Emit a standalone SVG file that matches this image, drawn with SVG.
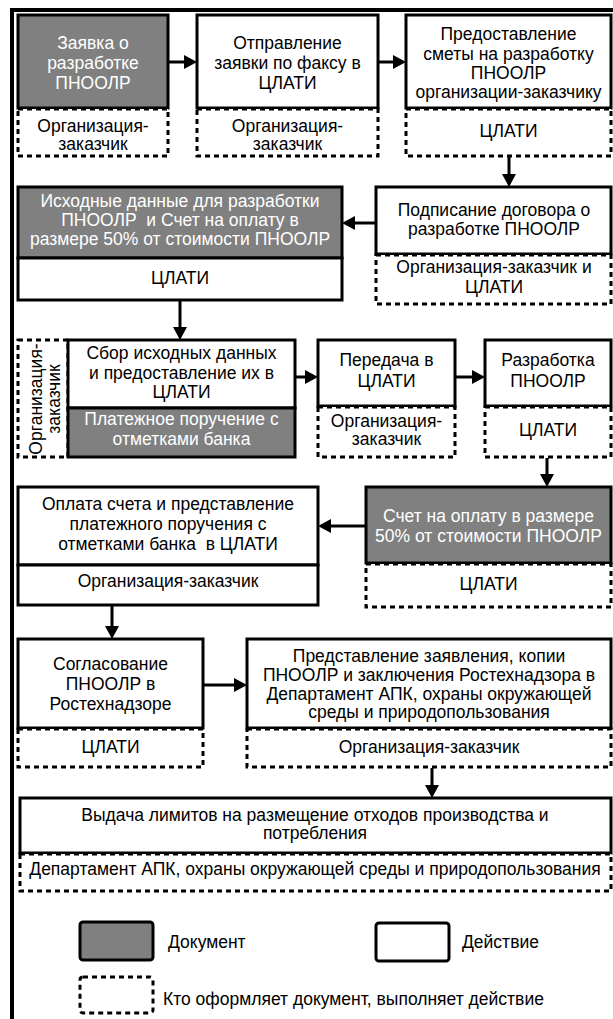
<svg xmlns="http://www.w3.org/2000/svg" width="613" height="1019" viewBox="0 0 613 1019">
<defs>
<style>
.box{fill:#fff;stroke:#000;stroke-width:3}
.doc{fill:#808080;stroke:#000;stroke-width:3}
.who{fill:#fff;stroke:#000;stroke-width:3;stroke-dasharray:5 4}
text{font-family:"Liberation Sans",Arial,sans-serif;font-size:17.5px;fill:#000}
.c{text-anchor:middle}
.w{fill:#fff}
#conn line{stroke:#000;stroke-width:3;marker-end:url(#ah)}
</style>
<marker id="ah" markerUnits="userSpaceOnUse" markerWidth="14" markerHeight="14" refX="1" refY="7" orient="auto">
<path d="M0,0 L13,7 L0,14 z" fill="#000"/>
</marker>
</defs>
<rect width="613" height="1019" fill="#fff"/>
<rect x="12" y="10" width="700" height="1100" fill="none" stroke="#000" stroke-width="4"/>

<g id="n1">
<rect class="doc" x="18" y="15" width="150" height="93"/>
<rect class="who" x="18" y="109" width="150" height="47"/>
<text class="c w"><tspan x="93" y="49">Заявка о</tspan><tspan x="93" y="69">разработке</tspan><tspan x="93" y="89">ПНООЛР</tspan></text>
<text class="c"><tspan x="93" y="132">Организация-</tspan><tspan x="93" y="150">заказчик</tspan></text>
</g>
<g id="n2">
<rect class="box" x="197" y="15" width="181" height="93"/>
<rect class="who" x="197" y="109" width="181" height="47"/>
<text class="c"><tspan x="287.5" y="49">Отправление</tspan><tspan x="287.5" y="69">заявки по факсу в</tspan><tspan x="287.5" y="89">ЦЛАТИ</tspan></text>
<text class="c"><tspan x="287.5" y="132">Организация-</tspan><tspan x="287.5" y="150">заказчик</tspan></text>
</g>
<g id="n3">
<rect class="box" x="406" y="15" width="205" height="93"/>
<rect class="who" x="406" y="109" width="205" height="47"/>
<text class="c"><tspan x="508.5" y="40">Предоставление</tspan><tspan x="508.5" y="59.5">сметы на разработку</tspan><tspan x="508.5" y="79">ПНООЛР</tspan><tspan x="508.5" y="98">организации-заказчику</tspan></text>
<text class="c" x="508.5" y="137">ЦЛАТИ</text>
</g>
<g id="n4">
<rect class="box" x="376" y="187" width="235" height="67"/>
<rect class="who" x="376" y="255" width="235" height="49"/>
<text class="c"><tspan x="494" y="216">Подписание договора о</tspan><tspan x="494" y="235">разработке ПНООЛР</tspan></text>
<text class="c"><tspan x="494" y="273">Организация-заказчик и</tspan><tspan x="494" y="293">ЦЛАТИ</tspan></text>
</g>
<g id="n5">
<rect class="doc" x="18" y="187" width="324" height="71"/>
<rect class="box" x="18" y="258" width="324" height="42"/>
<text class="c w"><tspan x="180" y="207">Исходные данные для разработки</tspan><tspan x="180" y="226">ПНООЛР &#160;и Счет на оплату в</tspan><tspan x="180" y="245">размере 50% от стоимости ПНООЛР</tspan></text>
<text class="c" x="180" y="284">ЦЛАТИ</text>
</g>
<g id="n6">
<rect class="who" x="18" y="340" width="50" height="117"/>
<rect class="box" x="68" y="340" width="227" height="68"/>
<rect class="doc" x="68" y="408" width="227" height="49"/>
<text class="c" transform="translate(43,399) rotate(-90)"><tspan x="0" y="-1">Организация-</tspan><tspan x="0" y="17">заказчик</tspan></text>
<text class="c"><tspan x="181.5" y="359">Сбор исходных данных</tspan><tspan x="181.5" y="379">и предоставление их в</tspan><tspan x="181.5" y="398">ЦЛАТИ</tspan></text>
<text class="c w"><tspan x="181.5" y="425">Платежное поручение с</tspan><tspan x="181.5" y="445">отметками банка</tspan></text>
</g>
<g id="n7">
<rect class="box" x="318" y="340" width="137" height="66"/>
<rect class="who" x="318" y="407" width="137" height="50"/>
<text class="c"><tspan x="386.5" y="366">Передача в</tspan><tspan x="386.5" y="387">ЦЛАТИ</tspan></text>
<text class="c"><tspan x="386.5" y="427">Организация-</tspan><tspan x="386.5" y="445">заказчик</tspan></text>
</g>
<g id="n8">
<rect class="box" x="485" y="340" width="126" height="66"/>
<rect class="who" x="485" y="407" width="126" height="50"/>
<text class="c"><tspan x="548" y="366">Разработка</tspan><tspan x="548" y="387">ПНООЛР</tspan></text>
<text class="c" x="548" y="436">ЦЛАТИ</text>
</g>
<g id="n9">
<rect class="doc" x="366" y="487" width="245" height="76"/>
<rect class="who" x="366" y="564" width="245" height="43"/>
<text class="c w"><tspan x="488.5" y="522">Счет на оплату в размере</tspan><tspan x="488.5" y="542">50% от стоимости ПНООЛР</tspan></text>
<text class="c" x="488.5" y="590">ЦЛАТИ</text>
</g>
<g id="n10">
<rect class="box" x="18" y="487" width="300" height="78"/>
<rect class="box" x="18" y="565" width="300" height="40"/>
<text class="c"><tspan x="168" y="510">Оплата счета и представление</tspan><tspan x="168" y="530">платежного поручения с</tspan><tspan x="168" y="550">отметками банка &#160;в ЦЛАТИ</tspan></text>
<text class="c" x="168" y="587">Организация-заказчик</text>
</g>
<g id="n11">
<rect class="box" x="18" y="639" width="185" height="89"/>
<rect class="who" x="18" y="729" width="185" height="38"/>
<text class="c"><tspan x="110.5" y="670">Согласование</tspan><tspan x="110.5" y="690">ПНООЛР в</tspan><tspan x="110.5" y="710">Ростехнадзоре</tspan></text>
<text class="c" x="110.5" y="753">ЦЛАТИ</text>
</g>
<g id="n12">
<rect class="box" x="247" y="639" width="364" height="89"/>
<rect class="who" x="247" y="729" width="364" height="38"/>
<text class="c"><tspan x="429" y="662">Представление заявления, копии</tspan><tspan x="429" y="681">ПНООЛР и заключения Ростехнадзора в</tspan><tspan x="429" y="700">Департамент АПК, охраны окружающей</tspan><tspan x="429" y="718">среды и природопользования</tspan></text>
<text class="c" x="429" y="753">Организация-заказчик</text>
</g>
<g id="n13">
<rect class="box" x="20" y="798" width="591" height="55"/>
<rect class="who" x="20" y="854" width="591" height="37"/>
<text class="c"><tspan x="315" y="821">Выдача лимитов на размещение отходов производства и</tspan><tspan x="315" y="839">потребления</tspan></text>
<text class="c" x="315" y="875">Департамент АПК, охраны окружающей среды и природопользования</text>
</g>
<g id="legend">
<rect class="doc" x="80" y="922" width="73" height="38" rx="3"/>
<text x="168" y="948">Документ</text>
<rect class="box" x="376" y="923" width="73" height="38" rx="3"/>
<text x="462" y="948">Действие</text>
<rect class="who" x="80" y="977" width="73" height="36" rx="3"/>
<text x="163" y="1005">Кто оформляет документ, выполняет действие</text>
</g>
<g id="conn">
<line x1="168" y1="62" x2="185" y2="62"/>
<line x1="378" y1="62" x2="394" y2="62"/>
<line x1="509" y1="157" x2="509" y2="175"/>
<line x1="376" y1="223" x2="354" y2="223"/>
<line x1="180" y1="300" x2="180" y2="328"/>
<line x1="295" y1="377" x2="306" y2="377"/>
<line x1="455" y1="377" x2="473" y2="377"/>
<line x1="547" y1="458" x2="547" y2="475"/>
<line x1="366" y1="526" x2="330" y2="526"/>
<line x1="112" y1="605" x2="112" y2="627"/>
<line x1="203" y1="685" x2="235" y2="685"/>
<line x1="432" y1="768" x2="432" y2="786"/>
</g>
</svg>
